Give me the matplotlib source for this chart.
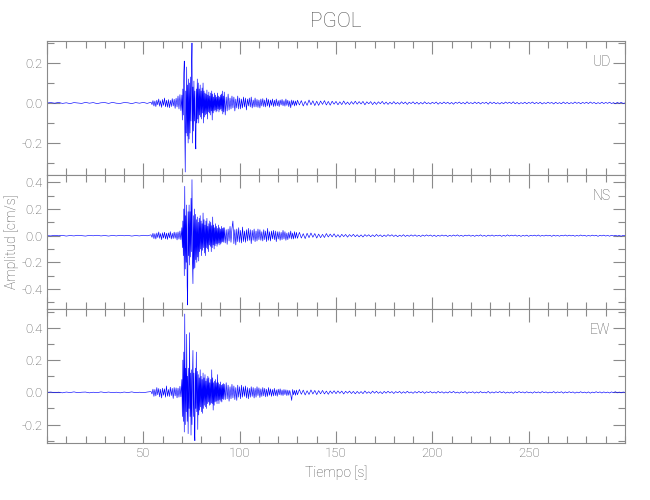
import numpy as np
import matplotlib
matplotlib.use('Agg')
import matplotlib.pyplot as plt
from matplotlib.ticker import MultipleLocator

# Station / component names
station = 'PGOL'
components = ['UD', 'NS', 'EW']

# Sampling grid (s): coarse before the event, fine during strong motion
t = np.concatenate([np.arange(0, 54, 2.0), np.arange(54, 70, 0.5),
                    np.arange(70, 92, 0.25), np.arange(92, 130, 0.5),
                    np.arange(130, 301, 1.0)])

# Velocities, in units of 0.001 cm/s
ud = [0, 2, -1, 3, -2, 1, -3, 2, 0, -2, 3, -1, 2, -3, 1, 2, -2, 3, -1, -2, 2, 1, -3, 2, -1, 3, -2,
      4, -8, 12, -15, 10, -18, 14, -9, 20, -16, 11, -22, 18, -12, 25, -19,
      14, -21, 17, -24, 13, -18, 22, -15, 19, -27, 24, -20, 35, -30, 42, -38,
      40, -85, 70, -60, 150, 210, -120, -345, 60, -150, 180, -165, 90, -200, 120, -180,
      100, -150, 130, -90, 160, 300, -200, 80, -140, 110, -90, 60, -160, -230, 70, -100,
      120, -80, 100, -100, 70, -60, 90, -70, 60, -80, 75, -50, 100, -100, 60, -70,
      50, -60, 45, -55, 65, -80, 40, -45, 55, -50, 35, -60, 50, -40, 60, -85,
      45, -50, 30, -40, 50, -35, 40, -45, 30, -40, 50, -30, 35, -45, 30, -35,
      40, -30, 45, -40, 60, -55, 35, -45,
      55, -60, 30, -40, 45, -35, 25, -30, 35, -25, 30, -40, 20, -25, 35, -30,
      25, -30, 20, -25, 30, -20, 25, -35, 20, -15, 25, -20, 30, -25, 15, -20,
      25, -20, 18, -22, 15, -25, 20, -15, 22, -18, 15, -20, 25, -15, 18, -22,
      15, -12, 20, -18, 14, -16, 20, -14, 12, -18, 15, -10, 18, -14, 12, -16,
      20, -12, 14, -18, 10, -24, 15, -10, 12, -15, 10, -12,
      14, -10, 12, -15, 8, -12, 15, -9, 11, -13, 9, -12, 10, -7, 12, -10, 8, -11, 9, -6,
      8, -9, 6, -8, 10, -7, 5, -8, 7, -6, 9, -6, 7, -5, 8, -9, 6, -4, 7, -8,
      5, -7, 6, -4, 8, -6, 5, -7, 4, -5, 7, -5, 3, -6, 6, -4, 5, -7, 4, -3,
      6, -5, 4, -6, 3, -5, 6, -4, 2, -5, 4, -3, 5, -6, 3, -4, 5, -3, 4, -5,
      3, -6, 4, -2, 5, -4, 3, -5, 6, -3, 2, -4, 5, -3, 4, -5, 3, -2, 4, -6,
      5, -3, 4, -4, 2, -5, 3, -4, 5, -2, 4, -3, 6, -4, 3, -5, 2, -3, 4, -4,
      3, -2, 5, -4, 3, -3, 4, -5, 2, -3, 4, -2, 3, -5, 4, -3, 2, -4, 5, -3,
      3, -4, 2, -3, 5, -2, 3, -4, 3, -2, 4, -3, 5, -2, 3, -4, 2, -3, 4, -3,
      3, -2, 4, -3, 2, -4, 3, -2, 3, -2, 0]

ns = [0, -2, 3, -1, 2, -3, 1, -2, 3, 0, -3, 2, -1, 3, -2, 1, -3, 2, -2, 3, -1, 2, -3, 1, -2, 3, -1,
      6, -12, 18, -22, 15, -25, 20, -14, 28, -20, 16, -30, 22, -18, 26, -24,
      19, -28, 21, -17, 30, -25, 18, -22, 27, -20, 24, -32, 28, -26, 35, -30,
      60, -90, 110, -150, 200, -300, 370, -250, 150, -200, 230, -380, -520, 180, -150, 230,
      -220, 180, -160, 280, -120, 420, -200, -360, 150, -250, 200, -240, 160, -180, 120, -200,
      140, -160, 100, -190, 130, -120, 150, -100, 110, -150, 90, -110, 170, -90, 120, -130,
      80, -150, 110, -90, 130, -100, 70, -120, 90, -70, 110, -80, 100, -120, 75, -90,
      140, -70, 80, -100, 60, -75, 90, -60, 70, -80, 55, -65, 80, -55, 60, -70,
      50, -60, 70, -50, 55, -45, 60, -50,
      60, -55, 45, -65, 50, -40, 70, -50, 55, 110, -60, 45, -70, 50, -45, 60,
      -50, 40, -55, 65, -45, 35, -50, 45, -40, 55, -35, 45, -60, 40, -35, 50,
      -45, 35, -40, 50, -30, 45, -35, 30, -40, 45, -30, 35, -45, 55, -35, 30,
      -40, 35, -25, 40, -30, 35, -45, 30, -25, 30, -35, 25, -30, 40, -25, 30,
      -35, 20, -30, 25, -20, 35, -25, 20, -25, 30, -20, 25,
      -20, 25, -18, 15, -22, 18, -15, 20, -12, 16, -18, 12, -15, 10, -14, 16, -10, 12, -9, 14,
      -11, 8, -12, 10, -7, 9, -11, 8, -6, 10, -8, 7, -9, 6, -10, 8, -5, 7, -8, 6,
      -7, 9, -5, 6, -8, 5, -6, 8, -4, 7, -6, 5, -8, 4, -5, 7, -6, 4, -5, 6,
      -4, 6, -5, 3, -6, 5, -4, 6, -3, 5, -5, 4, -6, 3, -4, 5, -3, 4, -6, 3,
      -4, 5, -3, 6, -4, 3, -5, 4, -2, 5, -4, 3, -5, 4, -3, 6, -4, 2, -5, 4,
      -3, 5, -4, 3, -2, 4, -5, 3, -4, 6, -3, 4, -2, 5, -4, 3, -5, 2, -3, 4,
      -5, 3, -2, 4, -3, 5, -4, 2, -3, 4, -2, 3, -5, 4, -3, 2, -4, 3, -2, 5,
      -3, 4, -2, 3, -4, 2, -3, 5, -2, 3, -4, 2, -3, 4, -2, 3, -5, 3, -2, 4,
      -3, 2, -4, 3, -2, 3, -3, 2, -4, 2, 0]

ew = [0, 2, -2, 1, -3, 2, -1, 3, -2, 1, 2, -3, 1, -2, 3, -1, 2, -2, 1, -3, 2, -1, 3, -2, 1, -2, 2,
      5, -10, 20, -25, 18, -22, 30, -15, 24, -28, 20, -35, 26, -18, 22, -30,
      40, -24, 18, -26, 32, -20, 25, -38, 30, -22, 28, -34, 26, -30, 38, -28,
      80, -150, 200, -180, 250, -246, 486, -200, 150, -120, 360, -180, 100, -256, 150, -100,
      370, -150, 120, -265, 140, -200, 100, 260, -150, 120, -220, -300, 150, -100, 250, -120,
      130, -230, 110, -140, 90, -110, 140, -90, 100, -120, 80, -130, 120, -100, 90, -80,
      110, -90, 70, -100, 85, -70, 100, -60, 90, -80, 60, -75, 80, -65, 140, -70,
      90, -110, 60, -80, 70, -60, 80, -55, 60, -70, 110, -50, 60, -70, 50, -45,
      65, -55, 45, -60, 50, -40, 55, -45,
      50, -45, 60, -40, 45, -55, 35, -40, 50, -35, 40, -45, 30, -50, 45, -30,
      35, -40, 45, -30, 35, -25, 40, -35, 30, -40, 25, -30, 35, -25, 30, -35,
      25, -30, 35, -20, 28, -32, 22, -25, 30, -22, 25, -28, 20, -25, 30, -18,
      22, -25, 18, -22, 25, -20, 16, -24, 20, -15, 22, -18, 15, -20, 18, -14,
      16, -20, 14, -18, 12, -15, -50, 18, -15, 12, -18, 14,
      -15, 18, -12, 14, -16, 10, -13, 15, -10, 12, -14, 11, -9, 12, -10, 8, -12, 9, -7, 10,
      -8, 9, -6, 8, -10, 7, -5, 8, -7, 6, -9, 6, -7, 5, -8, 9, -6, 4, -7, 8,
      -5, 7, -6, 4, -8, 6, -5, 7, -4, 5, -7, 5, -3, 6, -6, 4, -5, 7, -4, 3,
      -6, 5, -4, 6, -3, 5, -6, 4, -2, 5, -4, 3, -5, 6, -3, 4, -5, 3, -4, 5,
      -3, 6, -4, 2, -5, 4, -3, 5, -6, 3, -2, 4, -5, 3, -4, 5, -3, 2, -4, 6,
      -5, 3, -4, 4, -2, 5, -3, 4, -5, 2, -4, 3, -6, 4, -3, 5, -2, 3, -4, 4,
      -3, 2, -5, 4, -3, 3, -4, 5, -2, 3, -4, 2, -3, 5, -4, 3, -2, 4, -5, 3,
      -3, 4, -2, 3, -5, 2, -3, 4, -3, 2, -4, 3, -5, 2, -3, 4, -2, 3, -4, 3,
      -3, 2, -4, 3, -2, 4, -3, 2, -3, 2, 0]

# y ranges of each panel (cm/s)
ylims = [(-0.36, 0.31), (-0.55, 0.455), (-0.314, 0.517)]

traces = [np.array(v) / 1000.0 for v in (ud, ns, ew)]
for tr in traces:
    assert len(tr) == len(t), (len(tr), len(t))

grey = '#8a8a8a'
txt = '#505050'
plt.rcParams['font.family'] = ['Roboto', 'DejaVu Sans']
plt.rcParams['font.weight'] = 'light'
plt.rcParams['axes.titleweight'] = 'light'
plt.rcParams['axes.labelweight'] = 'light'
plt.rcParams['axes.unicode_minus'] = False

fig = plt.figure(figsize=(6.5, 5), dpi=100)
left, width = 47 / 650, 578 / 650
h = 134 / 500
bottoms = [(500 - 175) / 500, (500 - 309) / 500, (500 - 443) / 500]

for i, (comp, tr) in enumerate(zip(components, traces)):
    ax = fig.add_axes([left, bottoms[i], width, h])
    ax.plot(t, tr, color='blue', linewidth=0.45)
    ax.set_xlim(0, 300)
    ax.set_ylim(*ylims[i])
    ax.xaxis.set_major_locator(MultipleLocator(50))
    ax.xaxis.set_minor_locator(MultipleLocator(10))
    ax.yaxis.set_major_locator(MultipleLocator(0.2))
    ax.yaxis.set_minor_locator(MultipleLocator(0.1))
    ax.yaxis.set_major_formatter(plt.FormatStrFormatter('%.1f'))
    ax.tick_params(which='both', direction='in', top=True, right=True,
                   color=grey, labelcolor=txt, labelsize=9.5, width=0.8, pad=3)
    ax.tick_params(which='major', length=9)
    ax.tick_params(which='minor', length=5)
    for s in ax.spines.values():
        s.set_color(grey)
        s.set_linewidth(0.8)
    if i < 2:
        ax.tick_params(labelbottom=False)
    else:
        ax.set_xticks([50, 100, 150, 200, 250])
        ax.set_xlabel('Tiempo [s]', color=txt, fontsize=10)
    ax.text(0.975, 0.84, comp, transform=ax.transAxes, ha='right', va='center',
            color=txt, fontsize=10)
    if i == 0:
        ax.set_title(station, color=txt, fontsize=15, pad=10)

fig.text(12 / 650, 1 - 242 / 500, 'Amplitud [cm/s]', rotation=90, ha='center',
         va='center', color=txt, fontsize=10)

fig.savefig('out.png', dpi=100)
